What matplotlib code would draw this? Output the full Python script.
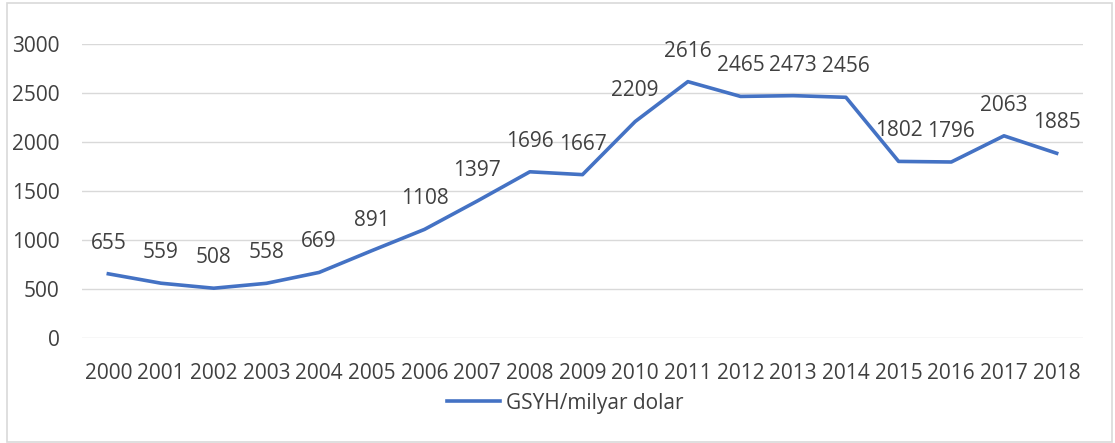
import matplotlib
matplotlib.use("Agg")
import matplotlib.pyplot as plt
from matplotlib.patches import Rectangle

years = ["2000", "2001", "2002", "2003", "2004", "2005", "2006", "2007", "2008", "2009",
         "2010", "2011", "2012", "2013", "2014", "2015", "2016", "2017", "2018"]
gdp = [655, 559, 508, 558, 669, 891, 1108, 1397, 1696, 1667,
       2209, 2616, 2465, 2473, 2456, 1802, 1796, 2063, 1885]
series_name = "GSYH/milyar dolar"
yticks = [0, 500, 1000, 1500, 2000, 2500, 3000]

plt.rcParams['font.family'] = ['Open Sans', 'DejaVu Sans']
W, H = 1115, 443
fig = plt.figure(figsize=(W / 100, H / 100), dpi=100)
ax = fig.add_axes([82 / W, 1 - 338 / H, (1083 - 82) / W, (338 - 44) / H])

txt_color = "#404040"
fs = 15
x = list(range(len(years)))
line, = ax.plot(x, gdp, color="#4472C4", lw=2.6, solid_joinstyle="round", label=series_name)
for xi, v in zip(x, gdp):
    ax.annotate(str(v), (xi, v), xytext=(0, 22), textcoords="offset points",
                ha="center", va="center", fontsize=fs, color=txt_color)

ax.set_xlim(-0.5, len(years) - 0.5)
ax.set_ylim(0, 3000)
ax.set_yticks(yticks)
ax.set_xticks(x)
ax.set_xticklabels(years)
ax.yaxis.grid(True, color="#D9D9D9", lw=1)
ax.set_axisbelow(True)
for s in ax.spines.values():
    s.set_visible(False)
ax.tick_params(axis="both", length=0, labelsize=fs, labelcolor=txt_color)
ax.tick_params(axis="y", pad=16)
ax.tick_params(axis="x", pad=18)

fig.legend(handles=[line], loc="center", bbox_to_anchor=(565 / W, 1 - 403 / H),
           frameon=False, fontsize=fs, labelcolor=txt_color, handlelength=2.55,
           handletextpad=0.3)

fig.patches.append(Rectangle((7 / W, 1 / H), (1112 - 7) / W, (441 - 2) / H,
                             transform=fig.transFigure, fill=False,
                             edgecolor="#D9D9D9", lw=1.2))
fig.savefig("out.png", dpi=100, facecolor="white")
